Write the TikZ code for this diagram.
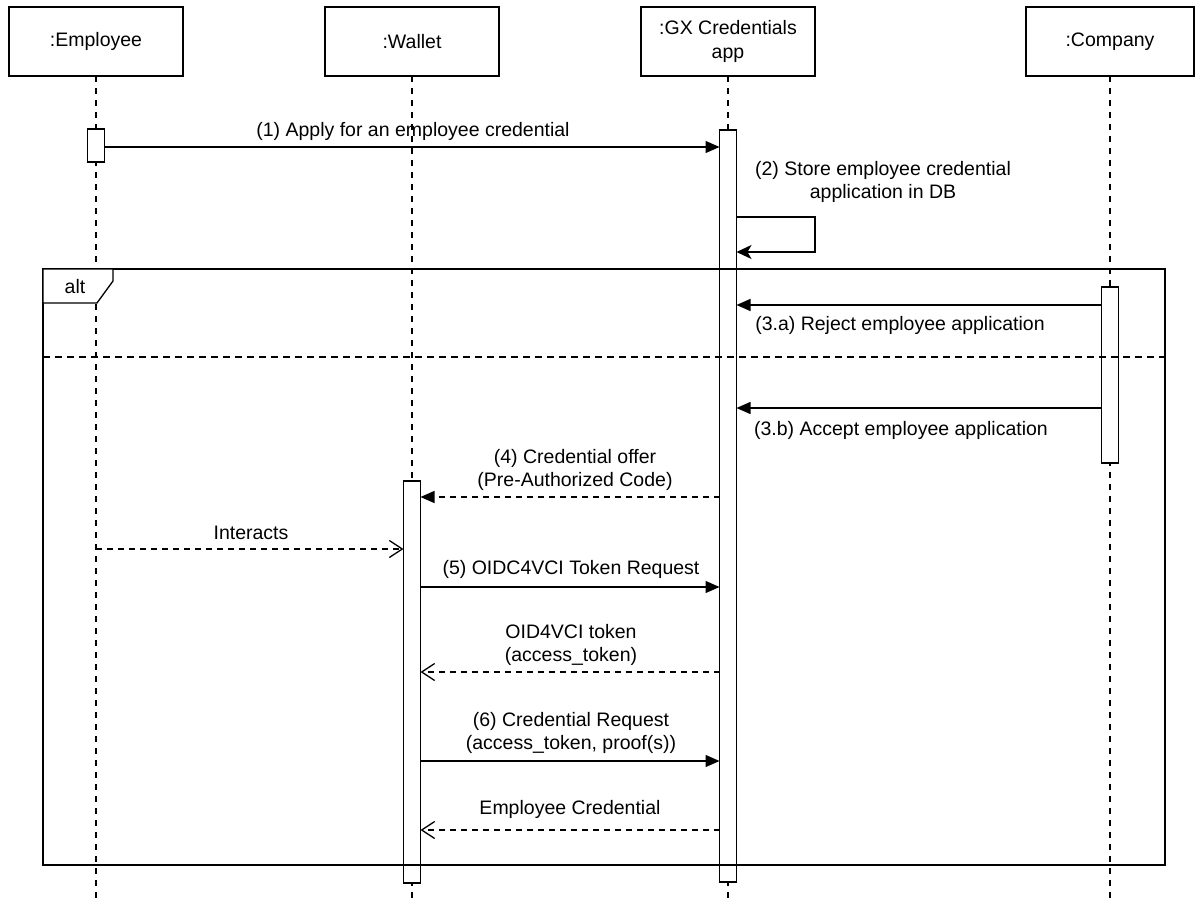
\documentclass[tikz,border=0pt]{standalone}
\usepackage{fontspec}
\setmainfont{Liberation Sans}
\usetikzlibrary{arrows.meta}
\begin{document}
\begin{tikzpicture}[x=1pt,y=-1pt,
  font=\fontsize{19.5}{23.5}\selectfont,
  head/.style={draw, line width=1.4pt, minimum width=174pt, minimum height=69pt,
               inner sep=0pt, outer sep=0pt, align=center},
  bar/.style={draw, fill=white, line width=1.3pt, minimum width=17pt,
              inner sep=0pt, outer sep=0pt, anchor=north},
  life/.style={line width=1.2pt, dash pattern=on 6pt off 6pt},
  call/.style={line width=1.3pt, -{Triangle[length=14pt,width=12pt]}},
  async/.style={line width=1.3pt, dash pattern=on 6pt off 5pt, -{Triangle[length=14pt,width=12pt]}},
  reply/.style={line width=1.3pt, dash pattern=on 6pt off 5pt, -{Straight Barb[length=13pt,width=17pt]}},
  selfcall/.style={line width=1.3pt, -{Stealth[length=15pt,width=14pt,inset=4pt]}},
  lbl/.style={inner sep=0pt, align=center},
]
\useasboundingbox (0,0) rectangle (1195,900);
\coordinate (bot) at (0,900);

% lifeline heads
\node[head] (emp) at (96,41.5) {:Employee};
\node[head] (wal) at (412,41.5) {:Wallet};
\node[head] (gx) at (728,41.5) {:GX Credentials\\app};
\node[head, minimum width=168pt] (com) at (1110,41.5) {:Company};

% lifelines
\foreach \n in {emp,wal,gx,com}
  \draw[life] (\n.south) -- (\n.south |- bot);

% activation bars
\node[bar, minimum height=33pt] (eb) at (96,129) {};
\node[bar, minimum height=752pt] (gb) at (728,130) {};
\node[bar, minimum height=176pt] (cb) at (1110,287) {};
\node[bar, minimum height=402pt] (wb) at (412,481) {};

% alt fragment
\draw[line width=1.3pt] (43,269) rectangle (1165,865);
\draw[line width=1.3pt, dash pattern=on 7pt off 5pt] (43,357) -- (1165,357);
\draw[line width=1.3pt, fill=white] (43,269) -- (113,269) -- (113,281) -- (97,303) -- (43,303) -- cycle;
\node[lbl] (alt) at (75,287) {alt};

% (1) application
\draw[call] (eb.east |- 0,147) -- (gb.west |- 0,147);
\node[lbl] (m1) at (413,131) {(1) Apply for an employee credential};

% (2) store in DB
\draw[selfcall] (gb.east |- 0,217) -- (815,217) -- (815,252) -- (gb.east |- 0,252);
\node[lbl] (m2) at (883,182) {(2) Store employee credential\\application in DB};

% (3.a) reject
\draw[call] (cb.west |- 0,305) -- (gb.east |- 0,305);
\node[lbl] (m3a) at (900,325) {(3.a) Reject employee application};

% (3.b) accept
\draw[call] (cb.west |- 0,408) -- (gb.east |- 0,408);
\node[lbl] (m3b) at (901,430) {(3.b) Accept employee application};

% (4) credential offer
\draw[async] (gb.west |- 0,497) -- (wb.east |- 0,497);
\node[lbl] (m4) at (575,470) {(4) Credential offer\\(Pre-Authorized Code)};

% interaction
\draw[reply] (emp.south |- 0,549) -- (wb.west |- 0,549);
\node[lbl] (mi) at (251,533) {Interacts};

% (5) token request
\draw[call] (wb.east |- 0,587) -- (gb.west |- 0,587);
\node[lbl] (m5) at (571,569) {(5) OIDC4VCI Token Request};

% token response
\draw[reply] (gb.west |- 0,672) -- (wb.east |- 0,672);
\node[lbl] (mt) at (571,645) {OID4VCI token\\(access\_token)};

% (6) credential request
\draw[call] (wb.east |- 0,761) -- (gb.west |- 0,761);
\node[lbl] (m6) at (571,733) {(6) Credential Request\\(access\_token, proof(s))};

% credential response
\draw[reply] (gb.west |- 0,830) -- (wb.east |- 0,830);
\node[lbl] (mc) at (570,809) {Employee Credential};
\end{tikzpicture}
\end{document}
